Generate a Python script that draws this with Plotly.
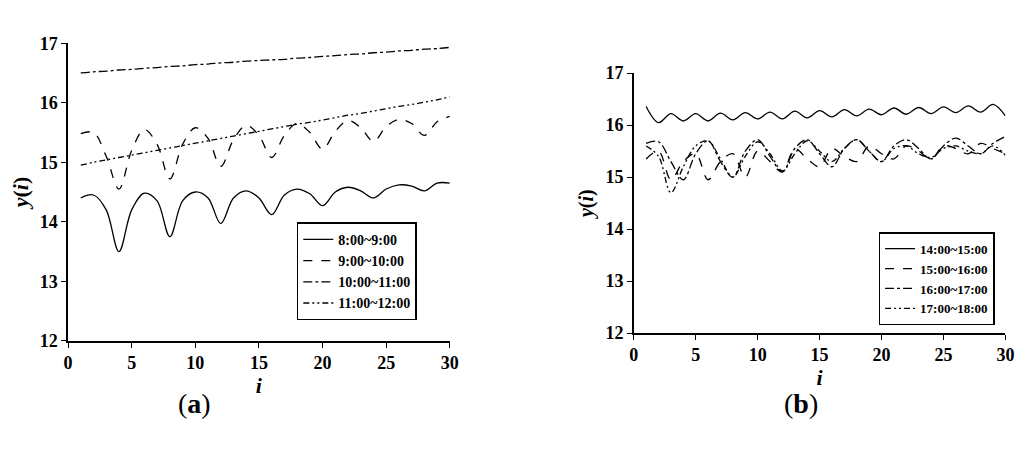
import plotly.graph_objects as go

i = list(range(1, 31))
a1 = [14.4,14.45,14.2,13.5,14.2,14.48,14.35,13.75,14.35,14.5,14.4,13.97,14.4,14.52,14.4,14.12,14.45,14.55,14.47,14.27,14.5,14.58,14.52,14.4,14.55,14.62,14.6,14.52,14.65,14.65]
a2 = [15.48,15.5,15.1,14.55,15.2,15.55,15.3,14.72,15.3,15.58,15.4,14.93,15.38,15.62,15.45,15.08,15.45,15.65,15.5,15.22,15.52,15.7,15.58,15.35,15.6,15.72,15.65,15.45,15.68,15.77]
a3 = [16.5,16.52,16.53,16.55,16.56,16.58,16.59,16.61,16.62,16.64,16.65,16.67,16.68,16.7,16.71,16.72,16.73,16.75,16.76,16.78,16.79,16.81,16.82,16.84,16.85,16.87,16.88,16.9,16.91,16.93]
a4 = [14.95,15.0,15.04,15.08,15.12,15.16,15.2,15.24,15.28,15.32,15.36,15.4,15.44,15.48,15.52,15.56,15.6,15.64,15.67,15.71,15.75,15.79,15.82,15.86,15.9,15.94,15.97,16.01,16.05,16.1]
b1 = [16.36,16.05,16.22,16.08,16.22,16.08,16.23,16.1,16.24,16.12,16.25,16.12,16.27,16.14,16.28,16.16,16.3,16.18,16.31,16.2,16.33,16.21,16.34,16.22,16.35,16.24,16.37,16.25,16.4,16.18]
b2 = [15.35,15.5,14.95,15.3,15.45,14.95,15.3,15.45,15.0,15.5,15.3,15.1,15.55,15.35,15.2,15.55,15.4,15.3,15.6,15.45,15.35,15.6,15.5,15.35,15.6,15.55,15.45,15.65,15.55,15.45]
b3 = [15.65,15.68,15.3,14.95,15.45,15.7,15.3,15.0,15.5,15.72,15.4,15.1,15.55,15.72,15.45,15.2,15.55,15.72,15.5,15.3,15.6,15.72,15.55,15.35,15.6,15.75,15.6,15.45,15.65,15.78]
b4 = [15.6,15.4,14.7,15.2,15.6,15.7,15.35,15.0,15.4,15.68,15.45,15.12,15.45,15.7,15.5,15.3,15.55,15.72,15.5,15.3,15.55,15.6,15.45,15.38,15.55,15.6,15.5,15.45,15.6,15.42]
yticks = [12, 13, 14, 15, 16, 17]
xticks = [0, 5, 10, 15, 20, 25, 30]

F = "Liberation Serif"
fig = go.Figure()
left = [("<b>8:00~9:00</b>", a1, "solid"), ("<b>9:00~10:00</b>", a2, "dash"),
        ("<b>10:00~11:00</b>", a3, "dashdot"), ("<b>11:00~12:00</b>", a4, "6px,3px,2px,3px,2px,3px")]
right = [("<b>14:00~15:00</b>", b1, "solid"), ("<b>15:00~16:00</b>", b2, "dash"),
         ("<b>16:00~17:00</b>", b3, "dashdot"), ("<b>17:00~18:00</b>", b4, "6px,3px,2px,3px,2px,3px")]
for n, y, d in left:
    fig.add_trace(go.Scatter(x=i, y=y, name=n, mode="lines", line=dict(color="black", width=1.3, dash=d, shape="spline"),
                             xaxis="x", yaxis="y", legend="legend"))
for n, y, d in right:
    fig.add_trace(go.Scatter(x=i, y=y, name=n, mode="lines", line=dict(color="black", width=1.3, dash=d, shape="spline"),
                             xaxis="x2", yaxis="y2", legend="legend2"))

ax = dict(showgrid=False, zeroline=False, showline=True, linecolor="black", linewidth=1.5, mirror=False,
          ticks="outside", tickcolor="black", tickfont=dict(family=F, size=18, color="black", weight="bold"))
fig.update_layout(
    width=1024, height=451, margin=dict(l=0, r=0, t=0, b=0), plot_bgcolor="white", paper_bgcolor="white",
    font=dict(family=F, color="black"),
    xaxis=dict(ax, domain=[0.0545, 0.4325], range=[0, 30], tickvals=xticks,
               title=dict(text="<b><i>i</i></b>", font=dict(size=22, family=F), standoff=0)),
    yaxis=dict(ax, domain=[0.251, 0.9415], range=[12, 17], tickvals=yticks,
               title=dict(text="<b><i>y</i>(<i>i</i>)</b>", font=dict(size=22, family=F), standoff=6)),
    xaxis2=dict(ax, domain=[0.6146, 0.9826], range=[0, 30], tickvals=xticks, anchor="y2",
                title=dict(text="<b><i>i</i></b>", font=dict(size=22, family=F), standoff=0)),
    yaxis2=dict(ax, domain=[0.269, 0.872], range=[12, 17], tickvals=yticks, anchor="x2",
                title=dict(text="<b><i>y</i>(<i>i</i>)</b>", font=dict(size=20, family=F), standoff=6)),
    legend=dict(x=0.281, y=0.526, xanchor="left", yanchor="top", bordercolor="black", borderwidth=1.5,
                font=dict(family=F, size=14), bgcolor="white"),
    legend2=dict(x=0.857, y=0.503, xanchor="left", yanchor="top", bordercolor="black", borderwidth=1.5,
                 font=dict(family=F, size=13), bgcolor="white"),
    annotations=[
        dict(text="(<b>a</b>)", x=0.161, y=0.065, xref="paper", yref="paper", showarrow=False, font=dict(family=F, size=28)),
        dict(text="(<b>b</b>)", x=0.799, y=0.065, xref="paper", yref="paper", showarrow=False, font=dict(family=F, size=28)),
    ],
)
fig.write_html("out.html")
